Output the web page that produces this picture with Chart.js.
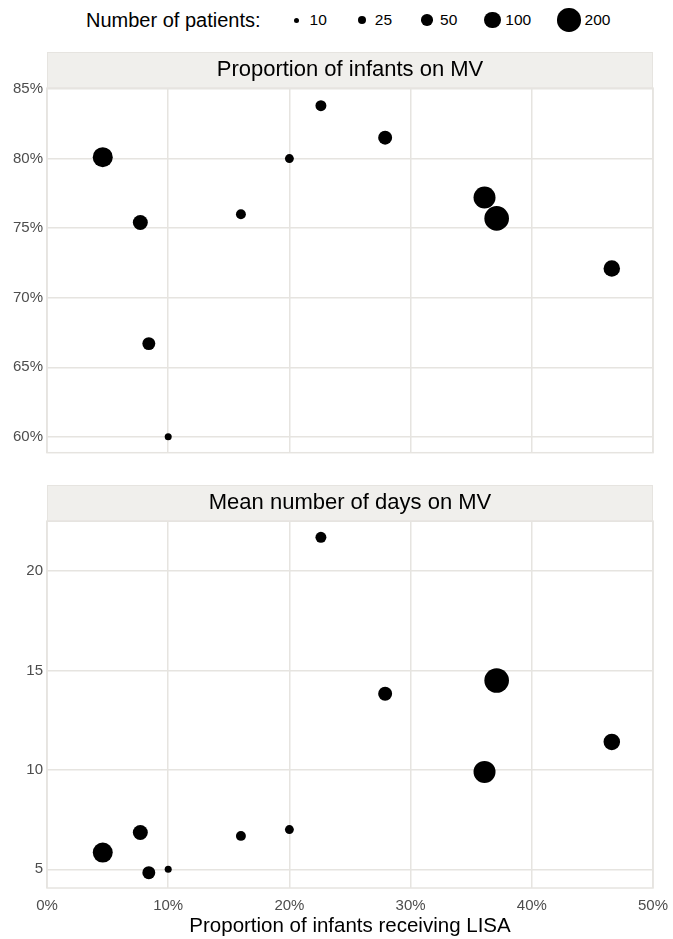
<!DOCTYPE html>
<html>
<head>
<meta charset="utf-8">
<script src="https://cdn.jsdelivr.net/npm/chart.js@4.4.0/dist/chart.umd.min.js"></script>
<style>
  body { margin: 0; background: #fff; font-family: "Liberation Sans", Arial, sans-serif; }
  #wrap { position: relative; width: 673px; height: 939px; }
  #legend { position: absolute; left: 0; top: 0; width: 673px; height: 40px; display: flex; align-items: center; padding-left: 86px; box-sizing: border-box; color: #000; white-space: nowrap; }
  #legend .title { font-size: 20px; margin-right: 27px; }
  #legend .item { display: flex; align-items: center; margin-right: 26px; flex-shrink: 0; }
  #legend .key { min-width: 18px; display: flex; justify-content: center; align-items: center; flex-shrink: 0; }
  #legend .dot { background: #000; border-radius: 50%; flex-shrink: 0; }
  #legend .lab { margin-left: 4px; font-size: 15.5px; }
  .box { position: absolute; left: 0; width: 673px; }
  #box1 { top: 40px; height: 425px; }
  #box2 { top: 470px; height: 469px; }
</style>
</head>
<body>
<div id="wrap">
  <div id="legend"><span class="title">Number of patients:</span></div>
  <div class="box" id="box1"><canvas id="chart-mv"></canvas></div>
  <div class="box" id="box2"><canvas id="chart-days"></canvas></div>
</div>
<script>
// proportion of infants receiving LISA (%), one value per unit
var lisa = [4.6, 7.7, 8.4, 10.0, 16.0, 20.0, 22.6, 27.9, 36.1, 37.1, 46.6];
// proportion of infants on MV (%)
var onMV = [80.1, 75.4, 66.7, 60.0, 76.0, 80.0, 83.8, 81.5, 77.2, 75.7, 72.1];
// mean number of days on MV
var daysMV = [5.84, 6.85, 4.83, 5.0, 6.68, 7.0, 21.7, 13.83, 9.9, 14.5, 11.41];
// number of patients (point size)
var patients = [146, 83, 62, 19, 37, 30, 45, 72, 176, 220, 100];

var legendSizes = [10, 25, 50, 100, 200];
var xTicks = [0, 10, 20, 30, 40, 50];
var yTicksMV = [60, 65, 70, 75, 80, 85];
var yTicksDays = [5, 10, 15, 20];

var gridColor = "#e6e4e0";
var stripColor = "#f0efec";
var tickColor = "#4d4d4d";
var fontFamily = "'Liberation Sans', Arial, sans-serif";

function radius(n) {
  return 0.84 * Math.sqrt(n) - 0.15;
}

// legend
var legend = document.getElementById("legend");
legendSizes.forEach(function (n) {
  var item = document.createElement("span");
  item.className = "item";
  var key = document.createElement("span");
  key.className = "key";
  var dot = document.createElement("span");
  dot.className = "dot";
  var d = 2 * radius(n);
  dot.style.width = d + "px";
  dot.style.height = d + "px";
  key.appendChild(dot);
  var lab = document.createElement("span");
  lab.className = "lab";
  lab.textContent = n;
  item.appendChild(key);
  item.appendChild(lab);
  legend.appendChild(item);
});

// strip behind the panel title + panel border
var panelPlugin = {
  id: "panel",
  beforeDraw: function (chart) {
    var a = chart.chartArea;
    var c = chart.ctx;
    c.save();
    c.fillStyle = stripColor;
    c.fillRect(a.left, a.top - 36, a.right - a.left, 36);
    c.strokeStyle = gridColor;
    c.lineWidth = 1;
    c.strokeRect(a.left + 0.5, a.top - 36 + 0.5, a.right - a.left - 1, 36);
    c.restore();
  },
  beforeDatasetsDraw: function (chart) {
    var a = chart.chartArea;
    var c = chart.ctx;
    c.save();
    c.strokeStyle = gridColor;
    c.lineWidth = 1.5;
    c.strokeRect(a.left, a.top, a.right - a.left, a.bottom - a.top);
    c.restore();
  },
};

function makePoints(yvals) {
  return lisa.map(function (x, i) {
    return { x: x, y: yvals[i] };
  });
}

function makeChart(id, title, yvals, yTicks, yMin, yMax, yFmt, showX, padTop, padBottom) {
  var ctx = document.getElementById(id).getContext("2d");
  return new Chart(ctx, {
    type: "scatter",
    data: {
      datasets: [
        {
          data: makePoints(yvals),
          backgroundColor: "#000",
          borderWidth: 0,
          pointRadius: function (c) {
            return radius(patients[c.dataIndex]);
          },
          pointHoverRadius: function (c) {
            return radius(patients[c.dataIndex]);
          },
        },
      ],
    },
    options: {
      responsive: true,
      maintainAspectRatio: false,
      animation: false,
      events: [],
      layout: {
        padding: { top: padTop, bottom: padBottom, left: 0, right: 20 },
      },
      plugins: {
        legend: { display: false },
        tooltip: { enabled: false },
        title: {
          display: true,
          text: title,
          fullSize: false,
          color: "#000",
          font: { size: 22, family: fontFamily, weight: "normal", lineHeight: "22px" },
          padding: { top: 7, bottom: 7 },
        },
      },
      scales: {
        x: {
          type: "linear",
          min: 0,
          max: 50,
          afterBuildTicks: function (scale) {
            scale.ticks = xTicks.map(function (v) {
              return { value: v };
            });
          },
          afterFit: function (scale) {
            scale.height = showX ? 51 : 0;
            scale.paddingLeft = 0;
            scale.paddingRight = 0;
          },
          grid: {
            color: gridColor,
            lineWidth: 1.5,
            drawTicks: false,
          },
          border: { display: false },
          ticks: {
            display: showX,
            color: tickColor,
            padding: 9,
            maxRotation: 0,
            font: { size: 15, family: fontFamily },
            callback: function (value) {
              return value + "%";
            },
          },
          title: {
            display: showX,
            text: "Proportion of infants receiving LISA",
            color: "#000",
            font: { size: 20.5, family: fontFamily },
            padding: { top: 4, bottom: 0 },
          },
        },
        y: {
          type: "linear",
          min: yMin,
          max: yMax,
          afterBuildTicks: function (scale) {
            scale.ticks = yTicks.map(function (v) {
              return { value: v };
            });
          },
          afterFit: function (scale) {
            scale.width = 47;
            scale.paddingTop = 0;
            scale.paddingBottom = 0;
          },
          grid: {
            color: gridColor,
            lineWidth: 1.5,
            drawTicks: false,
          },
          border: { display: false },
          ticks: {
            color: tickColor,
            padding: 4,
            font: { size: 15, family: fontFamily },
            callback: yFmt,
          },
        },
      },
    },
    plugins: [panelPlugin],
  });
}

makeChart("chart-mv", "Proportion of infants on MV", onMV, yTicksMV, 58.86, 85.07,
  function (v) { return v + "%"; }, false, 12, 9.3);

makeChart("chart-days", "Mean number of days on MV", daysMV, yTicksDays, 4.06, 22.52,
  function (v) { return v; }, true, 15, 0);
</script>
</body>
</html>
